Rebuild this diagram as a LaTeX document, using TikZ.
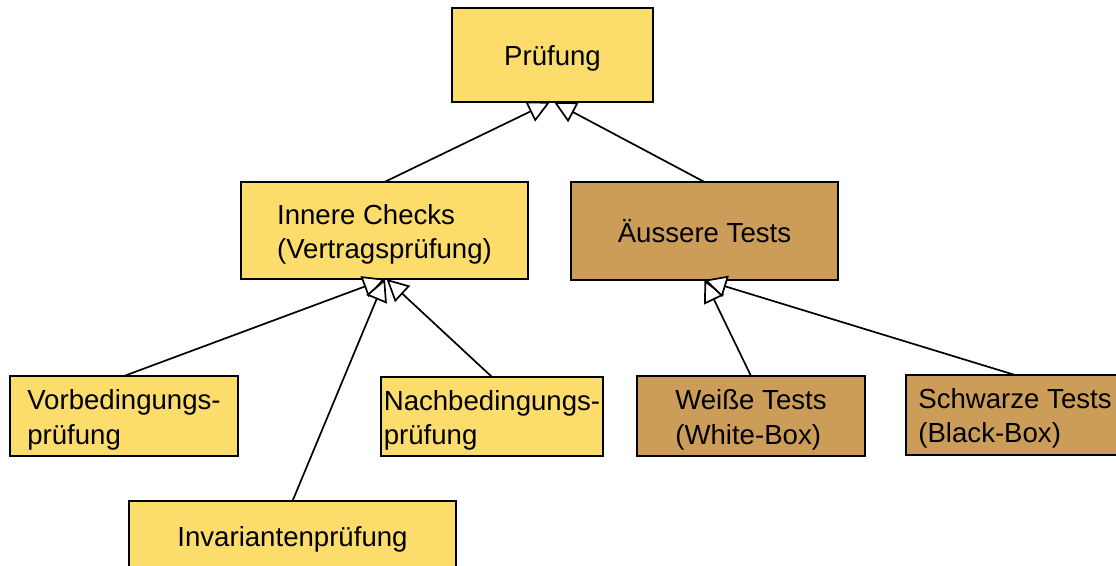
\documentclass[tikz,border=0pt]{standalone}
\usepackage{fontspec}
\setmainfont{Liberation Sans}
\usetikzlibrary{arrows.meta}
\definecolor{boxyellow}{RGB}{252,220,106}
\definecolor{boxbrown}{RGB}{204,157,88}
% #1: distance from box centre up to the first baseline
\newcommand{\boxtext}[2][6.5pt]{\raisebox{#1}[0pt][0pt]{\begin{tabular}[t]{@{}l@{}}#2\end{tabular}}}
\tikzset{
  box/.style={draw=black, line width=1.7pt, inner sep=0pt, outer sep=0pt,
    font=\fontsize{27.6}{34.5}\selectfont},
  ybox/.style={box, fill=boxyellow},
  bbox/.style={box, fill=boxbrown},
  gen/.style={draw=black, line width=1.7pt,
    -{Triangle[length=22pt, width=22pt, fill=white]}}
}
\begin{document}
\begin{tikzpicture}[x=1pt, y=-1pt]
\clip (0,0) rectangle (1116,565);
\fill[white] (0,0) rectangle (1116,565);

\node[ybox, minimum width=201pt, minimum height=94pt] (pr) at (552.5,55) {\boxtext[-10pt]{Prüfung}};
\node[ybox, minimum width=287pt, minimum height=97pt] (ic) at (384.5,230.5) {\boxtext[6.5pt]{Innere Checks\\(Vertragsprüfung)}};
\node[bbox, minimum width=267pt, minimum height=98pt] (ae) at (704.5,231) {\boxtext[-11pt]{Äussere Tests}};

\node[ybox, minimum width=228pt, minimum height=80pt] (vb) at (124,416) {\boxtext[6.5pt]{Vorbedingungs-\\prüfung}};
\node[ybox, minimum width=222pt, minimum height=79pt] (nb) at (492,416.5) {\boxtext[6.5pt]{Nachbedingungs-\\prüfung}};
\node[ybox, minimum width=327pt, minimum height=79pt] (inv) at (292.5,540.5) {\boxtext[-5.5pt]{Invariantenprüfung}};

\node[bbox, minimum width=228pt, minimum height=80pt] (wt) at (751,416) {\boxtext[6.5pt]{Weiße Tests\\(White-Box)}};
\node[bbox, minimum width=218pt, minimum height=80pt] (sw) at (1015,415) {\boxtext[7pt]{Schwarze Tests\\(Black-Box)}};

\draw[gen] (ic.north) -- ([xshift=-2.5pt]pr.south);
\draw[gen] (ae.north) -- ([xshift=1.5pt]pr.south);

\draw[gen] (vb.north) -- ([xshift=0.5pt]ic.south);
\draw[gen] (inv.north) -- ([xshift=0.5pt]ic.south);
\draw[gen] (nb.north) -- ([xshift=2pt]ic.south);

\draw[gen] (wt.north) -- (ae.south);
\draw[gen] (sw.north) -- (ae.south);
\end{tikzpicture}
\end{document}
